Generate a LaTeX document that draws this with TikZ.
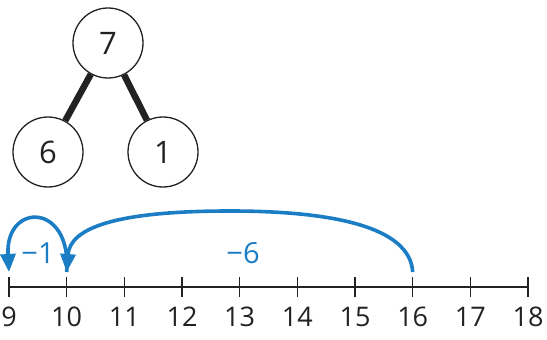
\documentclass[tikz,border=0pt]{standalone}
\usepackage{fontspec}
\setmainfont{Open Sans}
\usetikzlibrary{arrows.meta}
\definecolor{jumpblue}{HTML}{1B7DC4}
\definecolor{inkgrey}{HTML}{222222}
\tikzset{
  partcircle/.style={circle,draw=inkgrey,line width=1.3pt,minimum size=70pt,inner sep=0pt,font=\fontsize{31}{31}\selectfont,text=inkgrey},
  treeedge/.style={line width=6.5pt,inkgrey},
  numlabel/.style={font=\fontsize{27}{27}\selectfont,text=inkgrey,anchor=north,inner sep=0pt},
  jump/.style={jumpblue,line width=3.6pt,-{Triangle[length=18pt,width=15pt]}},
  jumplabel/.style={font=\fontsize{29}{29}\selectfont,text=jumpblue,inner sep=0pt}
}
\begin{document}
\begin{tikzpicture}[x=1pt,y=-1pt]
\useasboundingbox (0,0) rectangle (547,340);
% part-whole tree
\node[partcircle] (whole) at (108,43) {7};
\node[partcircle] (left) at (48,152) {6};
\node[partcircle] (right) at (163,152) {1};
\draw[treeedge] (whole) -- (left);
\draw[treeedge] (whole) -- (right);
% number line
\coordinate (lstart) at (9,287);
\coordinate (lend) at (528,287);
\draw[inkgrey,line width=1.3pt] (lstart) -- (lend);
\foreach \n in {0,...,9}{
  \pgfmathsetmacro{\xx}{9+57.67*\n}
  \pgfmathtruncatemacro{\lab}{9+\n}
  \coordinate (t\lab) at (\xx,287);
  \coordinate (a\lab) at (\xx,272);
  \draw[inkgrey,line width=1.3pt] (\xx,277) -- (\xx,297);
  \node[numlabel] (n\lab) at (\xx,307) {\lab};
}
% jumps
\draw[jump] (a16) .. controls (410,226) and (330,211) .. (230,211)
  .. controls (115,211) and (70,228) .. (a10);
\draw[jump] (a10) .. controls (72,202) and (5,202) .. (a9);
\node[jumplabel] (m1) at (38,253) {−1};
\node[jumplabel] (m6) at (243,253) {−6};
\end{tikzpicture}
\end{document}
